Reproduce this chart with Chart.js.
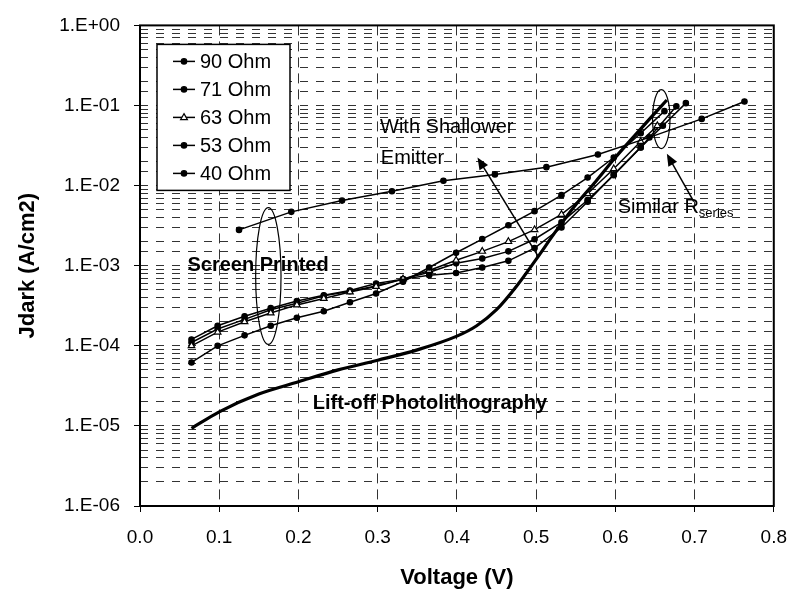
<!DOCTYPE html>
<html>
<head>
<meta charset="utf-8">
<script src="https://cdn.jsdelivr.net/npm/chart.js@4.4.1/dist/chart.umd.min.js"></script>
<style>
  html, body { margin: 0; padding: 0; background: #fff; }
  #wrap { width: 801px; height: 597px; }
</style>
</head>
<body>
<div id="wrap"><canvas id="chart" width="801" height="597"></canvas></div>
<script>
// voltage grid shared by the screen printed cells
const vSP = [0.065, 0.098, 0.132, 0.165, 0.198, 0.232, 0.265, 0.298, 0.332, 0.365,
             0.399, 0.432, 0.465, 0.498, 0.532, 0.565, 0.598, 0.632];

const v90 = [0.125, 0.191, 0.255, 0.318, 0.383, 0.448, 0.513, 0.578, 0.643, 0.709, 0.763];
const j90 = [2.8e-3, 4.7e-3, 6.5e-3, 8.5e-3, 1.15e-2, 1.38e-2, 1.7e-2, 2.45e-2, 4.0e-2, 6.8e-2, 1.12e-1];

const v71 = vSP.concat([0.662]);
const j71 = [6.2e-5, 1.0e-4, 1.35e-4, 1.78e-4, 2.24e-4, 2.7e-4, 3.5e-4, 4.5e-4, 6.3e-4, 9.5e-4,
             1.45e-3, 2.15e-3, 3.2e-3, 4.8e-3, 7.6e-3, 1.26e-2, 2.24e-2, 4.5e-2, 8.5e-2];

const v63 = vSP.concat([0.653]);
const j63 = [1.0e-4, 1.48e-4, 2.0e-4, 2.57e-4, 3.24e-4, 3.9e-4, 4.7e-4, 5.5e-4, 6.8e-4, 8.7e-4,
             1.17e-3, 1.51e-3, 2.0e-3, 2.82e-3, 4.37e-3, 7.9e-3, 1.62e-2, 3.55e-2, 5.6e-2];

const v53 = vSP.concat([0.677]);
const j53 = [1.1e-4, 1.62e-4, 2.14e-4, 2.82e-4, 3.4e-4, 4.2e-4, 4.8e-4, 5.6e-4, 6.8e-4, 8.3e-4,
             1.07e-3, 1.23e-3, 1.51e-3, 2.14e-3, 3.47e-3, 6.6e-3, 1.35e-2, 3.0e-2, 9.8e-2];

const v40 = vSP.concat([0.660, 0.689]);
const j40 = [1.2e-4, 1.78e-4, 2.34e-4, 2.95e-4, 3.63e-4, 4.27e-4, 4.9e-4, 6.0e-4, 6.8e-4, 7.6e-4,
             8.1e-4, 9.5e-4, 1.15e-3, 1.66e-3, 3.0e-3, 6.3e-3, 1.38e-2, 3.0e-2, 5.6e-2, 1.07e-1];

const vLift = [0.065, 0.1, 0.15, 0.2, 0.25, 0.3, 0.35, 0.4, 0.425, 0.45, 0.475, 0.5, 0.525,
               0.55, 0.575, 0.6, 0.625, 0.645, 0.665];
const jLift = [9.3e-6, 1.5e-5, 2.5e-5, 3.55e-5, 5.0e-5, 6.6e-5, 8.9e-5, 1.32e-4, 1.78e-4, 2.82e-4,
               5.5e-4, 1.2e-3, 2.7e-3, 5.75e-3, 1.12e-2, 2.24e-2, 4.27e-2, 7.1e-2, 1.17e-1];

const seriesLabels = ['90 Ohm', '71 Ohm', '63 Ohm', '53 Ohm', '40 Ohm'];
const xTicks = [0, 0.8, 0.1];   // min, max, step
const yRange = [1e-6, 1];

// annotations, in data units
const noteTexts = [
  {text: 'Screen Printed', x: 0.149, y: 1.0e-3, bold: true, align: 'center'},
  {text: 'Lift-off Photolithography', x: 0.218, y: 1.9e-5, bold: true, align: 'left'},
  {text: 'With Shallower', x: 0.303, y: 5.25e-2, bold: false, align: 'left'},
  {text: 'Emitter', x: 0.304, y: 2.19e-2, bold: false, align: 'left'}
];
const noteEllipses = [
  {x0: 0.146, x1: 0.178, y0: 1.04e-4, y1: 5.3e-3},
  {x0: 0.647, x1: 0.669, y0: 2.9e-2, y1: 0.158}
];
const noteArrows = [
  {from: [0.503, 1.29e-3], to: [0.426, 2.25e-2]},
  {from: [0.699, 6.3e-3], to: [0.665, 2.5e-2]}
];

const FONT = 'Arial, "Liberation Sans", Helvetica, sans-serif';

function pts(xs, ys) {
  return xs.map((x, i) => ({x: x, y: ys[i]}));
}

function isDecade(v) {
  const e = Math.log10(v);
  return Math.abs(e - Math.round(e)) < 1e-6;
}

function seriesSet(label, xs, ys, style) {
  return {
    label: label,
    data: pts(xs, ys),
    borderColor: '#000',
    borderWidth: 1.5,
    pointStyle: style,
    pointRadius: style === 'triangle' ? 3.8 : 2.7,
    pointBackgroundColor: style === 'triangle' ? '#fff' : '#000',
    pointBorderColor: '#000',
    pointBorderWidth: 1.2,
    tension: 0,
    fill: false
  };
}

const datasets = [
  {
    label: 'Lift-off Photolithography',
    data: pts(vLift, jLift),
    borderColor: '#000',
    borderWidth: 3.2,
    pointRadius: 0,
    cubicInterpolationMode: 'monotone',
    fill: false
  },
  seriesSet(seriesLabels[0], v90, j90, 'circle'),
  seriesSet(seriesLabels[1], v71, j71, 'circle'),
  seriesSet(seriesLabels[2], v63, j63, 'triangle'),
  seriesSet(seriesLabels[3], v53, j53, 'circle'),
  seriesSet(seriesLabels[4], v40, j40, 'circle')
];

function drawMarker(ctx, style, x, y, r, fill) {
  ctx.beginPath();
  if (style === 'triangle') {
    ctx.moveTo(x, y - r);
    ctx.lineTo(x + r * 0.9, y + r * 0.6);
    ctx.lineTo(x - r * 0.9, y + r * 0.6);
    ctx.closePath();
  } else {
    ctx.arc(x, y, r, 0, Math.PI * 2);
  }
  ctx.fillStyle = fill;
  ctx.fill();
  ctx.stroke();
}

const framePlugin = {
  id: 'frame',
  afterDatasetsDraw(chart) {
    const {ctx, chartArea: a, scales} = chart;
    const sx = scales.x, sy = scales.y;
    ctx.save();
    ctx.strokeStyle = '#000';
    ctx.fillStyle = '#000';

    // ellipses
    ctx.lineWidth = 1.2;
    noteEllipses.forEach(e => {
      const l = sx.getPixelForValue(e.x0), r = sx.getPixelForValue(e.x1);
      const b = sy.getPixelForValue(e.y0), t = sy.getPixelForValue(e.y1);
      ctx.beginPath();
      ctx.ellipse((l + r) / 2, (t + b) / 2, (r - l) / 2, (b - t) / 2, 0, 0, Math.PI * 2);
      ctx.stroke();
    });

    // arrows
    ctx.lineWidth = 1.5;
    noteArrows.forEach(ar => {
      const x1 = sx.getPixelForValue(ar.from[0]), y1 = sy.getPixelForValue(ar.from[1]);
      const x2 = sx.getPixelForValue(ar.to[0]), y2 = sy.getPixelForValue(ar.to[1]);
      const ang = Math.atan2(y2 - y1, x2 - x1);
      const hl = 12, hw = 5;
      ctx.beginPath();
      ctx.moveTo(x1, y1);
      ctx.lineTo(x2 - Math.cos(ang) * hl * 0.8, y2 - Math.sin(ang) * hl * 0.8);
      ctx.stroke();
      ctx.beginPath();
      ctx.moveTo(x2, y2);
      ctx.lineTo(x2 - Math.cos(ang) * hl - Math.sin(ang) * hw, y2 - Math.sin(ang) * hl + Math.cos(ang) * hw);
      ctx.lineTo(x2 - Math.cos(ang) * hl + Math.sin(ang) * hw, y2 - Math.sin(ang) * hl - Math.cos(ang) * hw);
      ctx.closePath();
      ctx.fill();
    });

    // texts
    ctx.textBaseline = 'middle';
    noteTexts.forEach(t => {
      ctx.font = (t.bold ? 'bold ' : '') + '20px ' + FONT;
      ctx.textAlign = t.align;
      ctx.fillText(t.text, sx.getPixelForValue(t.x), sy.getPixelForValue(t.y));
    });
    // "Similar R_series" with subscript
    const sxp = sx.getPixelForValue(0.603), syp = sy.getPixelForValue(5.3e-3);
    ctx.textAlign = 'left';
    ctx.font = '20px ' + FONT;
    ctx.fillText('Similar R', sxp, syp);
    const w = ctx.measureText('Similar R').width;
    ctx.font = '13px ' + FONT;
    ctx.fillText('series', sxp + w, syp + 6);

    // plot frame
    ctx.lineWidth = 2;
    ctx.strokeRect(a.left, a.top, a.right - a.left, a.bottom - a.top);

    // legend box
    const lx = a.left + 17, ly = a.top + 19, lw = 133, lh = 146;
    ctx.fillStyle = '#fff';
    ctx.fillRect(lx, ly, lw, lh);
    ctx.lineWidth = 1.5;
    ctx.strokeRect(lx, ly, lw, lh);
    ctx.font = '20px ' + FONT;
    ctx.textAlign = 'left';
    chart.data.datasets.forEach(ds => {
      const idx = seriesLabels.indexOf(ds.label);
      if (idx < 0) return;
      const yy = ly + 17 + idx * 28;
      ctx.strokeStyle = '#000';
      ctx.lineWidth = 1.5;
      ctx.beginPath();
      ctx.moveTo(lx + 16, yy);
      ctx.lineTo(lx + 38, yy);
      ctx.stroke();
      ctx.lineWidth = 1.2;
      drawMarker(ctx, ds.pointStyle, lx + 27, yy, ds.pointRadius, ds.pointBackgroundColor);
      ctx.fillStyle = '#000';
      ctx.fillText(ds.label, lx + 43, yy + 1);
    });
    ctx.restore();
  }
};

new Chart(document.getElementById('chart'), {
  type: 'line',
  data: {datasets: datasets},
  plugins: [framePlugin],
  options: {
    responsive: false,
    devicePixelRatio: 1,
    animation: false,
    layout: {padding: {top: 18, right: 20, bottom: 0, left: 0}},
    plugins: {legend: {display: false}, tooltip: {enabled: false}},
    scales: {
      x: {
        type: 'linear',
        min: xTicks[0],
        max: xTicks[1],
        afterFit(scale) { scale.height = 91; },
        grid: {color: '#333', lineWidth: 1, tickLength: 6, tickColor: '#000'},
        border: {display: false, dash: [10, 6]},
        ticks: {
          stepSize: xTicks[2],
          color: '#000',
          padding: 14,
          font: {family: FONT, size: 19},
          callback: v => Number(v).toFixed(1)
        },
        title: {
          display: true,
          text: 'Voltage (V)',
          color: '#000',
          font: {family: FONT, size: 22, weight: 'bold'},
          padding: {top: 6, bottom: 6}
        }
      },
      y: {
        type: 'logarithmic',
        min: yRange[0],
        max: yRange[1],
        afterFit(scale) { scale.width = 140; },
        grid: {
          color: '#333',
          lineWidth: 1,
          tickLength: 6,
          tickColor: c => (c.tick && isDecade(c.tick.value)) ? '#000' : 'rgba(0,0,0,0)'
        },
        border: {display: false, dash: [8, 8]},
        ticks: {
          autoSkip: false,
          color: '#000',
          padding: 14,
          font: {family: FONT, size: 19},
          callback: v => {
            if (!isDecade(v)) return '';
            const n = Math.round(Math.log10(v));
            return '1.E' + (n < 0 ? '-' : '+') + String(Math.abs(n)).padStart(2, '0');
          }
        },
        title: {
          display: true,
          text: 'Jdark (A/cm2)',
          color: '#000',
          font: {family: FONT, size: 22, weight: 'bold'},
          padding: {top: 15, bottom: 15}
        }
      }
    }
  }
});
</script>
</body>
</html>
